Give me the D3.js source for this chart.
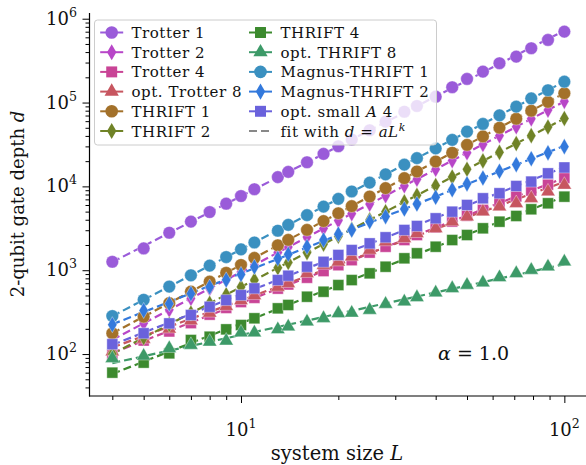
<!DOCTYPE html>
<html><head><meta charset="utf-8">
<script src="https://cdn.jsdelivr.net/npm/d3@7"></script>
<style>body{margin:0;background:#fff}svg{display:block}</style>
</head><body>
<svg id="c" width="586" height="465"></svg>
<script>
const L = [4,5,6,7,8,9,10,11,13,14,16,18,20,22,25,28,32,35,40,45,50,56,63,71,79,89,100];
const trotter1 = [1260,1820,2800,3800,4940,6220,7670,9250,12900,14900,19400,24400,30100,36200,46700,59200,77800,91000,117500,152400,191400,233900,294400,353200,444600,558500,701500];
const trotter2 = [148,233,337,461,605,769,955,1156,1626,1892,2483,3148,3908,4732,6152,7745,10160,12190,16000,20320,25230,31700,40270,51400,63970,81280,103300];
const trotter4 = [98,145,186,234,295,355,417,468,603,676,813,977,1148,1318,1622,1905,2291,2630,3236,3802,4467,5248,6310,7586,8913,10470,12590];
const optTrotter8 = [107,151,200,251,309,372,437,500,630,698,918,1150,1260,1450,1740,2190,2400,2750,3160,3790,4350,4990,5730,6280,7210,8650,10400];
const thrift1 = [177,279,405,556,731,931,1156,1403,1982,2302,3027,3855,4786,5808,7566,9528,12530,15070,19820,25180,31260,39450,50120,64120,79980,101800,129100];
const thrift2 = [100,157,226,308,403,510,631,762,1069,1239,1622,2051,2541,3069,3981,4989,6531,7816,10230,12940,16030,20140,25470,32430,40270,51050,64570];
const thrift4 = [60,79,102,147,161,197,222,267,351,385,483,554,665,763,918,1101,1387,1592,1907,2291,2630,3162,3793,4436,5333,6286,7540];
const optThrift8 = [89,95,117,128,140,144,180,180,197,212,243,267,306,310,335,395,421,475,539,608,666,710,822,918,1005,1101,1262];
const magnus1 = [284,444,638,869,1135,1435,1774,2143,2960,3475,4540,5740,7100,8700,11090,13900,18160,21730,28380,35890,45000,55590,70310,89330,112000,140300,177400];
const magnus2 = [224,331,398,525,631,767,891,1096,1380,1549,1905,2291,2692,3020,3802,4365,5370,6166,7413,9120,10720,12590,15140,18200,21380,25120,29790];
const smallA4 = [131,177,232,292,366,440,505,608,763,860,1100,1260,1520,1740,2090,2470,3020,3370,4160,4990,6000,7210,8280,10100,11400,14300,16800];

const seriesNames = ["Trotter 1","Trotter 2","Trotter 4","opt. Trotter 8","THRIFT 1","THRIFT 2","THRIFT 4","opt. THRIFT 8","Magnus-THRIFT 1","Magnus-THRIFT 2","opt. small A 4"];
const seriesValues = [trotter1,trotter2,trotter4,optTrotter8,thrift1,thrift2,thrift4,optThrift8,magnus1,magnus2,smallA4];
const seriesColors = ["#9a5bd9","#b846c8","#c94496","#c75660","#a3712a","#708327","#3c8a2e","#3d9a68","#3a90c0","#3379dc","#6a62dc"];
const seriesMarkers = ["circle","diamond","square","triangle","circle","diamond","square","triangle","circle","diamond","square"];
const xMajor = [10,100];
const xMinor = [4,5,6,7,8,9,20,30,40,50,60,70,80,90];
const yMajor = [1e2,1e3,1e4,1e5,1e6];

const svg = d3.select("#c");
const FONT = "DejaVu Serif";
const x = d3.scaleLog().domain([3.40,117.5]).range([89.5,587]);
const y = d3.scaleLog().domain([31.6,1.17e6]).range([396,13]);

const symType = {circle:d3.symbolCircle, square:d3.symbolSquare, triangle:d3.symbolTriangle, diamond:d3.symbolDiamond};
const symSize = {circle:125, square:120, triangle:88, diamond:75};
function sym(m){ return d3.symbol().type(symType[m]).size(symSize[m])(); }

// fits
const fitG = svg.append("g");
seriesValues.forEach((vals,i)=>{
  const lx = L.map(Math.log10), ly = vals.map(Math.log10);
  const n = lx.length, mx = d3.mean(lx), my = d3.mean(ly);
  let sxy=0,sxx=0; for(let j=0;j<n;j++){sxy+=(lx[j]-mx)*(ly[j]-my); sxx+=(lx[j]-mx)**2;}
  const k = sxy/sxx, b = my - k*mx;
  const ends = [L[0], L[L.length-1]];
  fitG.append("line")
    .attr("x1",x(ends[0])).attr("y1",y(Math.pow(10,b+k*Math.log10(ends[0]))))
    .attr("x2",x(ends[1])).attr("y2",y(Math.pow(10,b+k*Math.log10(ends[1]))))
    .attr("stroke",seriesColors[i]).attr("stroke-width",2.2).attr("stroke-dasharray","8,4");
});
// markers
seriesValues.forEach((vals,i)=>{
  svg.append("g").selectAll("path").data(vals).join("path")
    .attr("d",sym(seriesMarkers[i]))
    .attr("transform",(d,j)=>`translate(${x(L[j])},${y(d)})`)
    .attr("fill",seriesColors[i]).attr("stroke","#fff").attr("stroke-opacity",0.45).attr("stroke-width",0.8);
});

// axes
const ax = svg.append("g").attr("transform","translate(0,396)");
ax.call(d3.axisBottom(x).tickValues(xMinor).tickSize(4).tickSizeOuter(0).tickFormat(""));
ax.select(".domain").remove();
const ax2 = svg.append("g").attr("transform","translate(0,396)");
ax2.call(d3.axisBottom(x).tickValues(xMajor).tickSize(7).tickSizeOuter(0).tickFormat(""));
ax2.select(".domain").remove();
const yMinor = [];
[10,100,1000,1e4,1e5].forEach(dec=>{for(let m=2;m<=9;m++){const v=m*dec; if(v>=y.domain()[0] && v<=y.domain()[1]) yMinor.push(v);}});
const ay = svg.append("g").attr("transform","translate(89.5,0)");
ay.call(d3.axisLeft(y).tickValues(yMinor).tickSize(4).tickSizeOuter(0).tickFormat(""));
ay.select(".domain").remove();
const ay2 = svg.append("g").attr("transform","translate(89.5,0)");
ay2.call(d3.axisLeft(y).tickValues(yMajor).tickSize(7).tickSizeOuter(0).tickFormat(""));
ay2.select(".domain").remove();
svg.selectAll(".tick line").attr("stroke","#000").attr("stroke-width",1);
svg.append("line").attr("x1",89.5).attr("x2",89.5).attr("y1",13).attr("y2",396.5).attr("stroke","#000").attr("stroke-width",1.2);
svg.append("line").attr("x1",89).attr("x2",587).attr("y1",396).attr("y2",396).attr("stroke","#000").attr("stroke-width",1.2);

function powLabel(g, base, exp, xp, yp, anchor, fs){
  const t = g.append("text").attr("x",xp).attr("y",yp).attr("text-anchor",anchor)
    .attr("font-family",FONT).attr("font-size",fs).attr("fill","#111");
  t.append("tspan").text(base);
  t.append("tspan").attr("dy",-8).attr("font-size",fs*0.7).text(exp);
}
xMajor.forEach(v=>powLabel(svg,"10",String(Math.round(Math.log10(v))),x(v),436,"middle",18));
yMajor.forEach(v=>powLabel(svg,"10",String(Math.round(Math.log10(v))),77,y(v)+6,"end",18));

svg.append("text").attr("x",337).attr("y",460).attr("text-anchor","middle")
  .attr("font-family",FONT).attr("font-size",19.5).attr("fill","#111")
  .html('system size <tspan font-style="italic">L</tspan>');
svg.append("text").attr("transform","translate(24,204) rotate(-90)").attr("text-anchor","middle")
  .attr("font-family",FONT).attr("font-size",18).attr("fill","#111")
  .html('2-qubit gate depth <tspan font-style="italic">d</tspan>');
svg.append("text").attr("x",438).attr("y",360)
  .attr("font-family",FONT).attr("font-size",19).attr("fill","#111")
  .html('<tspan font-style="italic">α</tspan> = 1.0');

// legend
const lg = svg.append("g");
lg.append("rect").attr("x",94.5).attr("y",20).attr("width",342).attr("height",125).attr("rx",3)
  .attr("fill","#fff").attr("fill-opacity",0.8).attr("stroke","#ccc").attr("stroke-width",1);
const colX = [111.7,260.5], textX = [131.5,280.5];
const rowY = r => 32.5 + r*19.7;
const LFS = 15, LLS = 0.55;
seriesNames.forEach((nm,i)=>{
  const c = i<6?0:1, r = i<6?i:i-6;
  const cy = rowY(r);
  lg.append("line").attr("x1",colX[c]-11.5).attr("x2",colX[c]+11.5).attr("y1",cy).attr("y2",cy)
    .attr("stroke",seriesColors[i]).attr("stroke-width",2);
  lg.append("path").attr("d",sym(seriesMarkers[i])).attr("transform",`translate(${colX[c]},${cy})`)
    .attr("fill",seriesColors[i]);
  const t = lg.append("text").attr("x",textX[c]).attr("y",cy+5.5).attr("font-family",FONT)
    .attr("font-size",LFS).attr("letter-spacing",LLS).attr("fill","#111");
  if(nm==="opt. small A 4"){ t.html('opt. small <tspan font-style="italic">A</tspan> 4'); }
  else t.text(nm);
});
{
  const cy = rowY(5);
  lg.append("line").attr("x1",colX[1]-11.5).attr("x2",colX[1]+11.5).attr("y1",cy).attr("y2",cy)
    .attr("stroke","#888").attr("stroke-width",2).attr("stroke-dasharray","8,4");
  lg.append("text").attr("x",textX[1]).attr("y",cy+5.5).attr("font-family",FONT).attr("font-size",LFS)
    .attr("letter-spacing",LLS).attr("fill","#111")
    .html('fit with <tspan font-style="italic">d</tspan> = <tspan font-style="italic">aL</tspan><tspan font-style="italic" dy="-6" font-size="11">k</tspan>');
}
</script>
</body></html>
